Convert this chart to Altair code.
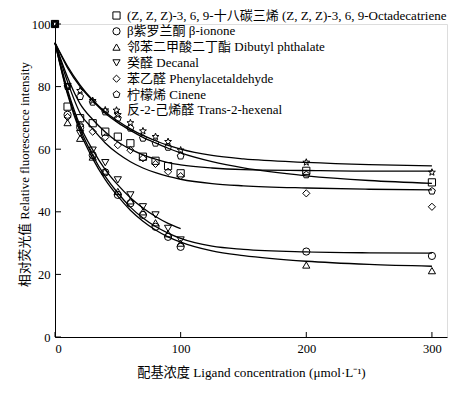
import altair as alt
import pandas as pd

FONT = "Liberation Serif, Noto Sans CJK SC"

series = [
    "(Z, Z, Z)-3, 6, 9-十八碳三烯 (Z, Z, Z)-3, 6, 9-Octadecatriene",
    "β紫罗兰酮  β-ionone",
    "邻苯二甲酸二丁酯 Dibutyl phthalate",
    "癸醛  Decanal",
    "苯乙醛  Phenylacetaldehyde",
    "柠檬烯  Cinene",
    "反-2-己烯醛  Trans-2-hexenal",
]

PENTAGON = "M0,-1L0.951,-0.309L0.588,0.809L-0.588,0.809L-0.951,-0.309Z"
STAR = ("M0,-1L0.247,-0.340L0.951,-0.309L0.399,0.130L0.588,0.809L0,0.42"
        "L-0.588,0.809L-0.399,0.130L-0.951,-0.309L-0.247,-0.340Z")
shapes = ["square", "circle", "triangle-up", "triangle-down", "diamond", PENTAGON, STAR]

# measured points
conc = [0, 10, 20, 30, 40, 50, 60, 70, 80, 90, 100, 200, 300]
conc_decanal = [0, 10, 20, 30, 40, 50, 60, 70, 80, 90, 100]
pts_octa = [100, 73.6, 69.9, 68.3, 65.6, 64.0, 61.9, 57.6, 56.3, 54.6, 52.3, 53.1, 49.4]
pts_ionone = [100, 71.0, 67.0, 58.1, 52.6, 45.4, 42.7, 39.0, 35.2, 32.0, 28.8, 27.3, 25.9]
pts_dbp = [100, 68.5, 63.5, 57.5, 53.0, 46.5, 43.5, 40.0, 36.5, 33.0, 30.0, 23.0, 21.2]
pts_decanal = [100, 80.0, 65.0, 59.7, 55.7, 50.2, 45.4, 41.6, 39.0, 34.7, 31.0]
pts_phenyl = [100, 70.3, 67.7, 65.6, 63.8, 61.3, 59.7, 57.1, 55.3, 52.8, 51.4, 45.9, 41.6]
pts_cinene = [100, 80.0, 76.8, 75.0, 71.9, 69.9, 66.7, 63.5, 61.9, 60.6, 57.8, 51.8, 46.6]
pts_hexenal = [100, 80.0, 78.7, 75.5, 72.5, 71.0, 68.4, 65.8, 64.0, 62.4, 59.7, 55.8, 52.6]

# fitted curves
curve_c = [0, 10, 20, 30, 40, 50, 60, 70, 80, 90, 100, 125, 150, 200, 250, 300]
curve_c_decanal = [0, 10, 20, 30, 40, 50, 60, 70, 80, 90, 100]
fit_hexenal = [94, 86.5, 80.5, 75.7, 71.9, 69.0, 66.5, 64.4, 62.7, 61.2, 60.0, 58.0, 56.9, 55.8, 55.1, 54.7]
fit_cinene = [94, 86.0, 80.0, 75.5, 71.5, 68.5, 66.0, 63.8, 62.0, 60.3, 58.8, 56.0, 54.0, 51.5, 50.0, 49.1]
fit_octa = [94, 83.0, 74.5, 69.5, 65.5, 62.3, 60.0, 58.2, 56.8, 55.7, 55.0, 54.0, 53.5, 53.2, 53.0, 53.0]
fit_phenyl = [94, 81.5, 71.5, 66.5, 62.0, 58.6, 56.0, 54.0, 52.5, 51.3, 50.4, 49.0, 48.3, 47.6, 47.2, 47.0]
fit_ionone = [94, 78.0, 66.5, 58.0, 51.3, 46.0, 41.5, 38.0, 35.3, 33.2, 31.5, 29.0, 28.0, 27.2, 26.9, 26.8]
fit_dbp = [94, 77.5, 65.5, 57.0, 50.3, 45.0, 40.5, 37.0, 34.2, 32.0, 30.3, 27.5, 26.0, 24.2, 23.2, 22.6]
fit_decanal = [94, 79.0, 67.5, 59.8, 53.5, 48.6, 44.5, 41.2, 38.5, 36.3, 34.6]

y_ticks = [0, 20, 40, 60, 80, 100]
x_ticks = [0, 100, 200, 300]

pt_sets = [(conc, pts_octa), (conc, pts_ionone), (conc, pts_dbp), (conc_decanal, pts_decanal),
           (conc, pts_phenyl), (conc, pts_cinene), (conc, pts_hexenal)]
fit_sets = [(curve_c, fit_octa), (curve_c, fit_ionone), (curve_c, fit_dbp), (curve_c_decanal, fit_decanal),
            (curve_c, fit_phenyl), (curve_c, fit_cinene), (curve_c, fit_hexenal)]

pts_rows, fit_rows = [], []
for name, (cs, vs) in zip(series, pt_sets):
    for c, v in zip(cs, vs):
        pts_rows.append({"series": name, "c": c, "v": v})
for name, (cs, vs) in zip(series, fit_sets):
    for c, v in zip(cs, vs):
        fit_rows.append({"series": name, "c": c, "v": v})
pts_df = pd.DataFrame(pts_rows)
fit_df = pd.DataFrame(fit_rows)

W, H = 392, 313
xs = alt.Scale(domain=[0, 312], nice=False, zero=False)
ys = alt.Scale(domain=[0, 100], nice=False)

x_axis = alt.Axis(values=x_ticks, ticks=False, grid=False, domainColor="black", domainWidth=1,
                  labelFont=FONT, labelFontSize=12.5, labelColor="black", labelPadding=5,
                  title="配基浓度 Ligand concentration (μmol·L⁻¹)", titleFont=FONT,
                  titleFontSize=13.2, titleFontWeight="normal", titleColor="black", titlePadding=12)
y_axis = alt.Axis(values=y_ticks, ticks=False, grid=False, domainColor="black", domainWidth=1,
                  labelFont=FONT, labelFontSize=12.5, labelColor="black", labelPadding=5,
                  title="相对荧光值 Relative fluorescence intensity", titleFont=FONT,
                  titleFontSize=12.8, titleFontWeight="normal", titleColor="black",
                  titleX=-24, titleY=150)

lines = alt.Chart(fit_df).mark_line(color="black", strokeWidth=1.3, interpolate="monotone").encode(
    x=alt.X("c:Q", scale=xs, axis=x_axis),
    y=alt.Y("v:Q", scale=ys, axis=y_axis),
    detail="series:N",
)

points = alt.Chart(pts_df).mark_point(filled=False, color="black", size=52, strokeWidth=1, opacity=1).encode(
    x=alt.X("c:Q", scale=xs),
    y=alt.Y("v:Q", scale=ys),
    shape=alt.Shape("series:N", scale=alt.Scale(domain=series, range=shapes),
                    legend=alt.Legend(title=None, orient="none", legendX=55, legendY=-15,
                                      labelFont=FONT, labelFontSize=13, labelColor="black",
                                      labelLimit=400, rowPadding=1.8, symbolSize=52,
                                      symbolStrokeColor="black", symbolFillColor="transparent",
                                      symbolStrokeWidth=1, labelOffset=4)),
)

ytick_df = pd.DataFrame({"v": y_ticks})
xtick_df = pd.DataFrame({"c": x_ticks})
yt = alt.Chart(ytick_df).mark_rule(color="black", strokeWidth=1).encode(
    y=alt.Y("v:Q", scale=ys), x=alt.value(0), x2=alt.value(6))
xt = alt.Chart(xtick_df).mark_rule(color="black", strokeWidth=1).encode(
    x=alt.X("c:Q", scale=xs), y=alt.value(H), y2=alt.value(H - 5))

chart = alt.layer(lines, points, yt, xt).properties(
    width=W, height=H,
    autosize=alt.AutoSizeParams(type="none"),
    padding={"left": 47, "top": 16, "right": 8, "bottom": 62},
).configure_view(stroke=None).configure(background="white")

chart.save("out.html", embed_options={"renderer": "svg", "actions": False})
